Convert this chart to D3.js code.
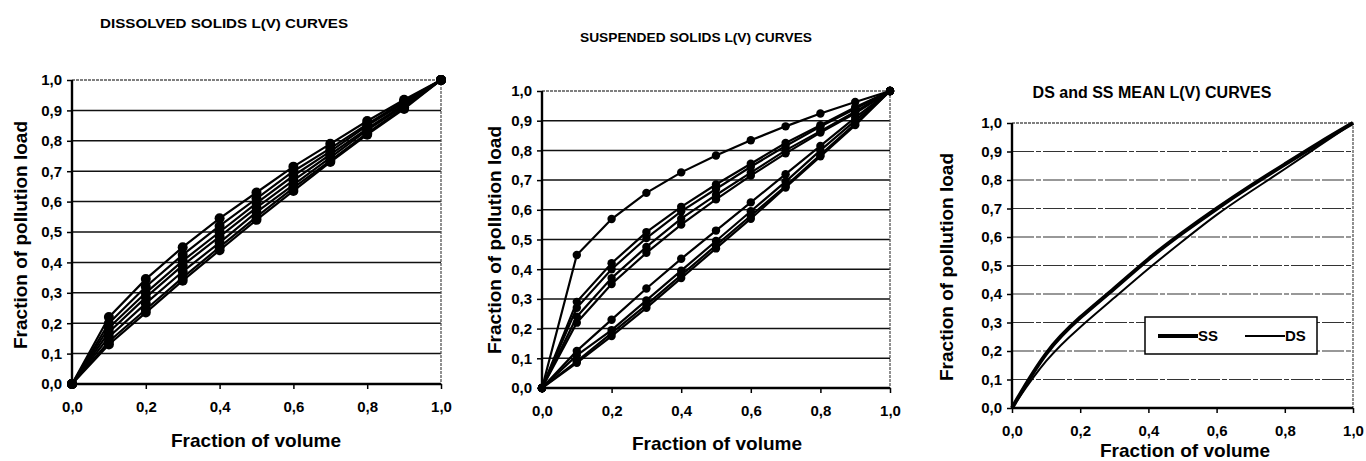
<!DOCTYPE html>
<html><head><meta charset="utf-8">
<script src="https://cdn.jsdelivr.net/npm/d3@7"></script>
<style>
html,body{margin:0;padding:0;background:#fff;}
svg{display:block;font-family:"Liberation Sans",Arial,sans-serif;font-weight:bold;}
</style></head><body>
<svg id="c" width="1366" height="461"></svg>
<script>
// ---------- DATA ----------
const volumeFractions = [0,0.1,0.2,0.3,0.4,0.5,0.6,0.7,0.8,0.9,1.0];
const xTicks = [0,0.2,0.4,0.6,0.8,1.0];
const yTicks = [0,0.1,0.2,0.3,0.4,0.5,0.6,0.7,0.8,0.9,1.0];

const dsCurve1 = [0,0.22,0.345,0.45,0.545,0.63,0.715,0.79,0.865,0.935,1];
const dsCurve2 = [0,0.20,0.32,0.425,0.52,0.61,0.70,0.775,0.855,0.93,1];
const dsCurve3 = [0,0.185,0.30,0.405,0.50,0.595,0.685,0.765,0.85,0.925,1];
const dsCurve4 = [0,0.17,0.285,0.39,0.485,0.58,0.67,0.755,0.84,0.92,1];
const dsCurve5 = [0,0.155,0.265,0.37,0.465,0.565,0.655,0.745,0.835,0.915,1];
const dsCurve6 = [0,0.14,0.245,0.35,0.45,0.55,0.645,0.735,0.825,0.91,1];
const dsCurve7 = [0,0.13,0.235,0.34,0.44,0.54,0.635,0.73,0.82,0.905,1];

const ssCurve1 = [0,0.448,0.569,0.657,0.726,0.783,0.834,0.881,0.924,0.963,1];
const ssCurve2 = [0,0.29,0.42,0.525,0.61,0.685,0.755,0.825,0.885,0.945,1];
const ssCurve3 = [0,0.27,0.40,0.505,0.595,0.67,0.745,0.815,0.88,0.94,1];
const ssCurve4 = [0,0.24,0.37,0.475,0.57,0.65,0.725,0.80,0.865,0.93,1];
const ssCurve5 = [0,0.22,0.35,0.455,0.55,0.635,0.715,0.79,0.86,0.925,1];
const ssCurve6 = [0,0.125,0.23,0.335,0.435,0.53,0.625,0.72,0.815,0.91,1];
const ssCurve7 = [0,0.11,0.195,0.295,0.395,0.495,0.595,0.695,0.80,0.90,1];
const ssCurve8 = [0,0.09,0.185,0.28,0.38,0.48,0.58,0.68,0.785,0.89,1];
const ssCurve9 = [0,0.085,0.175,0.27,0.37,0.47,0.57,0.675,0.78,0.885,1];

const ssMean = [0,0.205,0.32,0.418,0.525,0.615,0.70,0.78,0.855,0.93,1];
const dsMean = [0,0.175,0.285,0.386,0.49,0.585,0.68,0.76,0.838,0.92,1];

const titles = ["DISSOLVED SOLIDS L(V) CURVES","SUSPENDED SOLIDS L(V) CURVES","DS and SS MEAN L(V) CURVES"];
const xAxisTitle = "Fraction of volume";
const yAxisTitle = "Fraction of pollution load";
const legendLabels = ["SS","DS"];

const dsSeries = [dsCurve1,dsCurve2,dsCurve3,dsCurve4,dsCurve5,dsCurve6,dsCurve7];
const ssSeries = [ssCurve1,ssCurve2,ssCurve3,ssCurve4,ssCurve5,ssCurve6,ssCurve7,ssCurve8,ssCurve9];

// ---------- DRAW ----------
const svg = d3.select("#c");
const fmt = d => d3.format(".1f")(d).replace(".", ",");

function panel(cfg){
  const g = svg.append("g");
  const x = d3.scaleLinear().domain([0,1]).range([cfg.x0,cfg.x1]);
  const y = d3.scaleLinear().domain([0,1]).range([cfg.yb,cfg.yt]);
  // gridlines
  g.append("g").selectAll("line").data(yTicks.filter(t=>t>0&&t<1)).join("line")
    .attr("x1",cfg.x0).attr("x2",cfg.x1).attr("y1",d=>y(d)).attr("y2",d=>y(d))
    .attr("stroke",cfg.gridColor).attr("stroke-width",cfg.gridW)
    .attr("stroke-dasharray",cfg.gridDash||null);
  // frame top & right
  g.append("path").attr("d",`M${cfg.x0},${cfg.yt}H${cfg.x1}V${cfg.yb}`)
    .attr("fill","none").attr("stroke","#555").attr("stroke-width",1.3).attr("stroke-dasharray","3,1");
  // axes
  const ax = g.append("g").attr("transform",`translate(0,${cfg.yb})`)
    .call(d3.axisBottom(x).tickValues(xTicks).tickFormat(fmt).tickSize(5).tickPadding(cfg.xPad));
  const ay = g.append("g").attr("transform",`translate(${cfg.x0},0)`)
    .call(d3.axisLeft(y).tickValues(yTicks).tickFormat(fmt).tickSize(5).tickPadding(cfg.yPad));
  [ax,ay].forEach(a=>{
    a.select(".domain").attr("stroke","#000").attr("stroke-width",2.4);
    a.selectAll(".tick line").attr("stroke","#000").attr("stroke-width",1.5);
    a.selectAll(".tick text").attr("fill","#000").style("font-size",cfg.tickFs+"px")
      .style("font-family","'Liberation Sans',Arial,sans-serif").style("font-weight","bold");
  });
  ay.select(".domain").attr("d",`M-0,${cfg.yb}V${cfg.yt}`);
  ax.select(".domain").attr("d",`M${cfg.x0},0H${cfg.x1}`);
  // title
  const t = g.append("text").attr("x",cfg.tx).attr("y",cfg.ty).attr("text-anchor","middle")
    .style("font-size",cfg.tfs+"px").text(cfg.title);
  if(cfg.tlen) t.attr("textLength",cfg.tlen).attr("lengthAdjust","spacingAndGlyphs");
  g.append("text").attr("x",cfg.xtx).attr("y",cfg.xty).attr("text-anchor","middle")
    .style("font-size",cfg.afs+"px").text(xAxisTitle);
  g.append("text").attr("transform",`translate(${cfg.ytx},${cfg.yty}) rotate(-90)`)
    .attr("text-anchor","middle").attr("dy","0.35em").style("font-size",cfg.afs+"px").text(yAxisTitle);
  return {g,x,y};
}

function drawSeries(p, series, r){
  const line = d3.line().x((d,i)=>p.x(volumeFractions[i])).y(d=>p.y(d));
  series.forEach(s=>{
    p.g.append("path").attr("d",line(s)).attr("fill","none").attr("stroke","#000").attr("stroke-width",2.2);
  });
  series.forEach(s=>{
    p.g.append("g").selectAll("circle").data(s).join("circle")
      .attr("cx",(d,i)=>p.x(volumeFractions[i])).attr("cy",d=>p.y(d)).attr("r",r).attr("fill","#000");
  });
}

const p1 = panel({x0:72,x1:441,yt:80,yb:384,gridColor:"#111",gridW:1.5,xPad:12,yPad:5,tickFs:15,
  title:titles[0],tx:224,ty:28,tfs:12,tlen:248,xtx:256,xty:447,ytx:20,yty:235,afs:19});
drawSeries(p1, dsSeries, 5);

const p2 = panel({x0:542,x1:890,yt:91,yb:388,gridColor:"#111",gridW:1.5,xPad:12,yPad:5,tickFs:15,
  title:titles[1],tx:696,ty:42,tfs:12,tlen:232,xtx:717,xty:450,ytx:494,yty:240,afs:19});
drawSeries(p2, ssSeries, 4.2);

const p3 = panel({x0:1012,x1:1353,yt:123,yb:408,gridColor:"#333",gridW:1.2,gridDash:"22,2,5,2",xPad:12,yPad:5,tickFs:15,
  title:titles[2],tx:1152,ty:98,tfs:16,xtx:1185,xty:457,ytx:946,yty:267,afs:19});
const mline = d3.line().x((d,i)=>p3.x(volumeFractions[i])).y(d=>p3.y(d)).curve(d3.curveBasis);
p3.g.append("path").attr("d",mline(dsMean)).attr("fill","none").attr("stroke","#000").attr("stroke-width",2);
p3.g.append("path").attr("d",mline(ssMean)).attr("fill","none").attr("stroke","#000").attr("stroke-width",4);

// legend
const lg = p3.g.append("g");
lg.append("rect").attr("x",1145).attr("y",317).attr("width",172).attr("height",37)
  .attr("fill","#fff").attr("stroke","#000").attr("stroke-width",1.5);
const legendItems = [{label:legendLabels[0],w:4,x:1158},{label:legendLabels[1],w:2,x:1245}];
legendItems.forEach(it=>{
  lg.append("line").attr("x1",it.x).attr("x2",it.x+40).attr("y1",336).attr("y2",336)
    .attr("stroke","#000").attr("stroke-width",it.w);
  lg.append("text").attr("x",it.x+40).attr("y",341).style("font-size","15px").text(it.label);
});
</script>
</body></html>
